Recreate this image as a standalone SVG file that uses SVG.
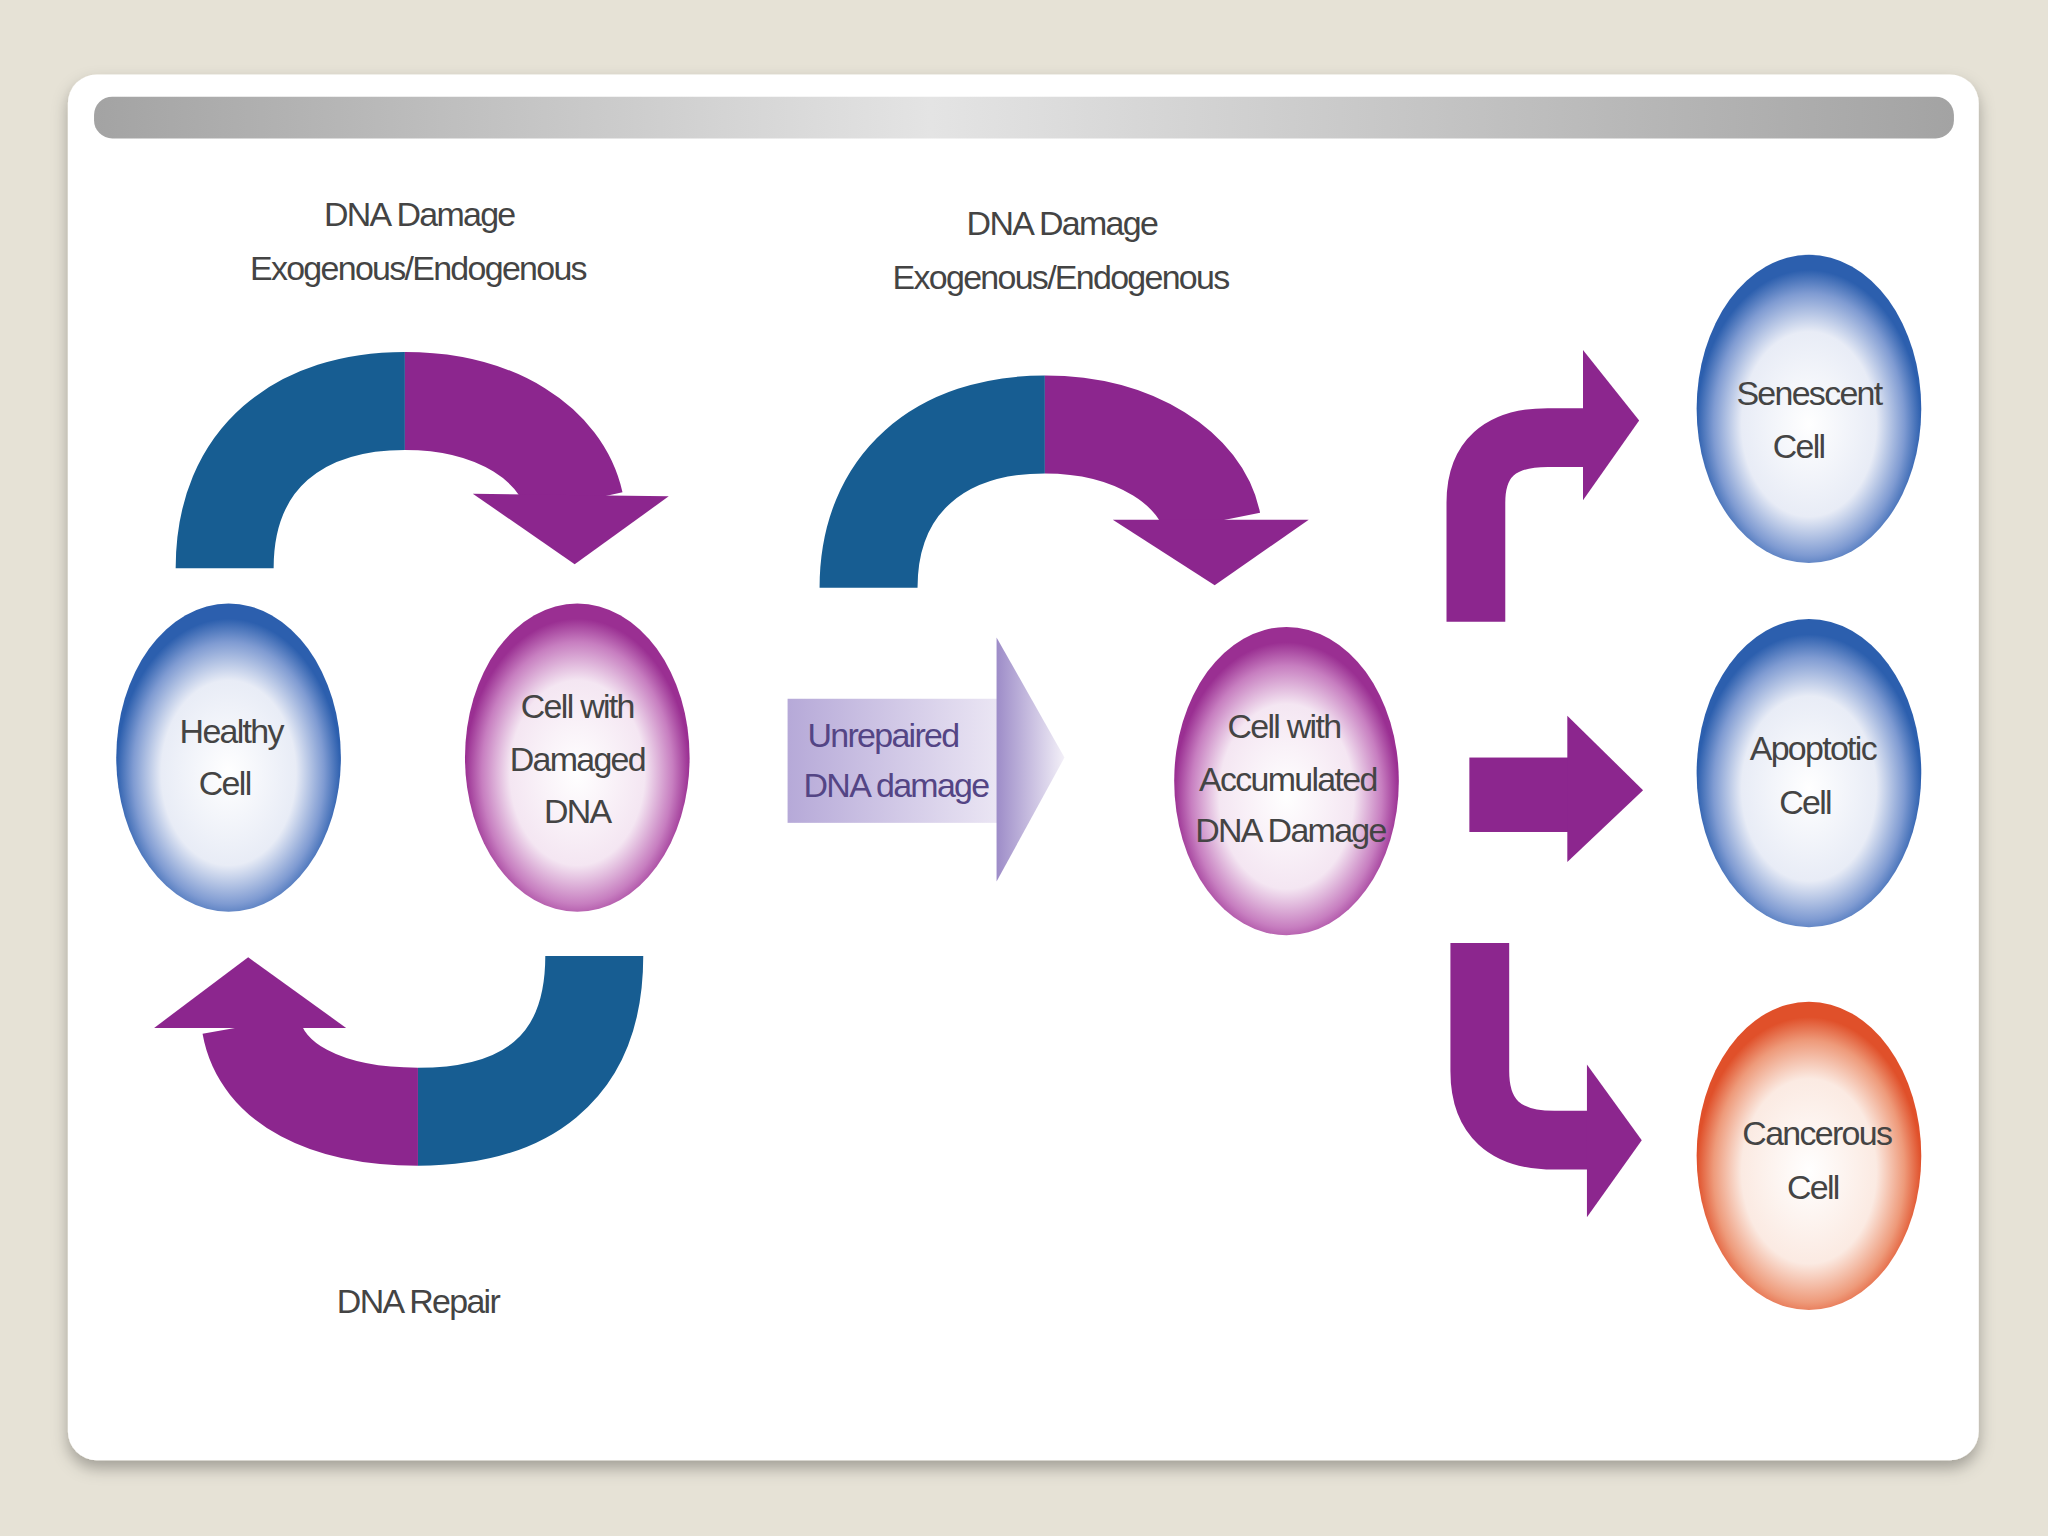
<svg xmlns="http://www.w3.org/2000/svg" width="2048" height="1536" viewBox="0 0 2048 1536">
<defs>
<radialGradient id="gb" cx="50%" cy="55%" r="50%"><stop offset="0" stop-color="#fff"/><stop offset="0.6" stop-color="#e8ecf6"/><stop offset="0.85" stop-color="#7f9bd2"/><stop offset="1" stop-color="#2c5fae"/></radialGradient>
<radialGradient id="gm" cx="50%" cy="55%" r="50%"><stop offset="0" stop-color="#fff"/><stop offset="0.6" stop-color="#f4e6f2"/><stop offset="0.85" stop-color="#c77ec0"/><stop offset="1" stop-color="#9a2f92"/></radialGradient>
<radialGradient id="go" cx="50%" cy="55%" r="50%"><stop offset="0" stop-color="#fff"/><stop offset="0.6" stop-color="#fbeae2"/><stop offset="0.85" stop-color="#ee9a7a"/><stop offset="1" stop-color="#e0502a"/></radialGradient>
<linearGradient id="bar" x1="0" x2="1"><stop offset="0" stop-color="#a3a3a3"/><stop offset="0.45" stop-color="#e4e4e4"/><stop offset="1" stop-color="#a3a3a3"/></linearGradient>
<linearGradient id="lav" x1="0" x2="1"><stop offset="0" stop-color="#b6a9d8"/><stop offset="1" stop-color="#ebe6f4"/></linearGradient>
<linearGradient id="lavh" x1="0" x2="1"><stop offset="0" stop-color="#9d8cc8"/><stop offset="1" stop-color="#f3f0f8"/></linearGradient>
<filter id="sh"><feDropShadow dx="0" dy="6" stdDeviation="6" flood-color="#000" flood-opacity="0.3"/></filter>
</defs>
<style>
.t{font-family:"Liberation Sans",Arial,sans-serif;font-size:26px;fill:#444;text-anchor:middle;letter-spacing:-1.3px}
.b{fill:none;stroke:#175d92;stroke-width:75}
.m{fill:none;stroke:#8c268e;stroke-width:75}
.mf{fill:#8c268e}
</style>
<rect width="2048" height="1536" fill="#e6e2d6"/>
<g transform="scale(1.3061)">
<rect x="52" y="57" width="1463" height="1061" rx="22" fill="#fff" filter="url(#sh)"/>
<rect x="72" y="74" width="1424" height="32" rx="14" fill="url(#bar)"/>
<g id="connectors">
<path class="b" d="M172,435 C172,350 230,307 310,307"/>
<path class="m" d="M310,307 C380,307 430,340 440,385"/>
<polygon class="mf" points="362,378 512,380 440,432"/>
<path class="b" d="M455,732 C455,820 400,855 320,855"/>
<path class="m" d="M320,855 C250,855 200,830 192,785"/>
<polygon class="mf" points="118,787 265,787 190,733"/>
<path class="b" d="M665,450 C665,370 720,325 800,325"/>
<path class="m" d="M800,325 C870,325 920,360 928,400"/>
<polygon class="mf" points="852,398 1002,398 930,448"/>
<rect x="603" y="535" width="162" height="95" fill="url(#lav)"/>
<polygon points="763,488 815,580 763,675" fill="url(#lavh)"/>
<path fill="none" stroke="#8c268e" stroke-width="45" d="M1130,476 L1130,385 Q1130,335 1185,335 L1215,335"/>
<polygon class="mf" points="1212,268 1255,322 1212,383"/>
<rect class="mf" x="1125" y="580" width="78" height="57"/>
<polygon class="mf" points="1200,548 1258,605 1200,660"/>
<path fill="none" stroke="#8c268e" stroke-width="45" d="M1133,722 L1133,820 Q1133,873 1190,873 L1218,873"/>
<polygon class="mf" points="1215,815 1257,873 1215,932"/>
</g>
<g id="labels">
<text class="t" x="321" y="173">DNA Damage</text>
<text class="t" x="320" y="214">Exogenous/Endogenous</text>
<text class="t" x="813" y="180">DNA Damage</text>
<text class="t" x="812" y="221">Exogenous/Endogenous</text>
<text class="t" x="320" y="1005">DNA Repair</text>
<text class="t" x="676" y="572" style="fill:#544585">Unrepaired</text>
<text class="t" x="686" y="610" style="fill:#544585">DNA damage</text>
</g>
<g id="healthy"><ellipse cx="175" cy="580" rx="86" ry="118" fill="url(#gb)"/><text class="t" x="177" y="569">Healthy</text><text class="t" x="172" y="609">Cell</text></g>
<g id="damaged"><ellipse cx="442" cy="580" rx="86" ry="118" fill="url(#gm)"/><text class="t" x="442" y="550">Cell with</text><text class="t" x="442" y="590">Damaged</text><text class="t" x="442" y="630">DNA</text></g>
<g id="accum"><ellipse cx="985" cy="598" rx="86" ry="118" fill="url(#gm)"/><text class="t" x="983" y="565">Cell with</text><text class="t" x="986" y="606">Accumulated</text><text class="t" x="988" y="645">DNA Damage</text></g>
<g id="senescent"><ellipse cx="1385" cy="313" rx="86" ry="118" fill="url(#gb)"/><text class="t" x="1385" y="310">Senescent</text><text class="t" x="1377" y="351">Cell</text></g>
<g id="apoptotic"><ellipse cx="1385" cy="592" rx="86" ry="118" fill="url(#gb)"/><text class="t" x="1388" y="582">Apoptotic</text><text class="t" x="1382" y="623">Cell</text></g>
<g id="cancerous"><ellipse cx="1385" cy="885" rx="86" ry="118" fill="url(#go)"/><text class="t" x="1391" y="877">Cancerous</text><text class="t" x="1388" y="918">Cell</text></g>
</g>
</svg>
